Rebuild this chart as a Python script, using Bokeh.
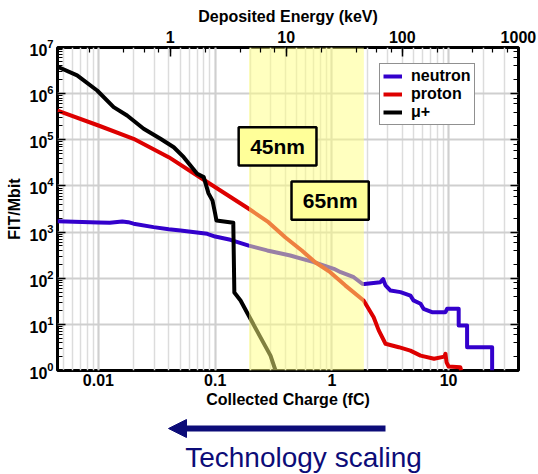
from bokeh.plotting import figure
from bokeh.models import (LogAxis, Range1d, LogScale, CustomJSTickFormatter, Legend,
                          LegendItem, Arrow, NormalHead, Label)
from bokeh.layouts import column
from bokeh.embed import file_html
from bokeh.resources import INLINE

# ---------------- data ----------------
mu_charge = [0.00446, 0.00457, 0.00657, 0.00975, 0.0135, 0.0176, 0.0244, 0.034, 0.0442,
             0.0538, 0.0701, 0.0798, 0.0877, 0.0949, 0.1, 0.1026, 0.143, 0.146, 0.165,
             0.19, 0.244, 0.298, 0.329]
mu_fit = [3.9e6, 3.74e6, 2.48e6, 1.17e6, 5.1e5, 3.37e5, 1.73e5, 1.05e5, 6.9e4,
          4.2e4, 1.84e4, 1.55e4, 6.9e3, 4.8e3, 2.5e3, 1.78e3, 1.6e3, 49, 33,
          17, 5.3, 2.1, 1.0]

proton_charge = [0.00446, 0.01, 0.02, 0.04, 0.0773, 0.194, 0.286, 0.398, 0.552, 0.72,
                 0.967, 1.30, 1.87, 2.28, 2.52, 2.88, 3.74, 4.7, 5.75, 7.5, 9.2, 9.4,
                 9.6, 10.0, 12.6, 12.8]
proton_fit = [4.3e5, 2.04e5, 1.05e5, 4.2e4, 1.43e4, 3.2e3, 1.64e3, 774, 398, 222,
              135, 70, 33, 14.3, 7.4, 3.8, 3.2, 2.7, 2.1, 1.8, 2.0, 2.3,
              1.5, 1.22, 1.18, 1.0]

neutron_charge = [0.00446, 0.01, 0.0125, 0.0145, 0.016, 0.018, 0.02, 0.0297, 0.04, 0.0505,
                  0.0855, 0.1, 0.135, 0.194, 0.279, 0.44, 0.70, 1.04, 1.19, 1.54, 1.82,
                  1.9, 2.6, 2.75, 2.88, 3.18, 3.87, 4.71, 5.0, 5.75, 6.1, 7.2, 9.4, 9.7,
                  12.2, 12.2, 14.4, 14.4, 23.6, 23.6]
neutron_fit = [1.72e3, 1.62e3, 1.6e3, 1.66e3, 1.7e3, 1.64e3, 1.52e3, 1.28e3, 1.15e3, 1.08e3,
               918, 800, 680, 510, 400, 310, 224, 160, 135, 105, 76,
               75, 82, 95, 70, 54, 50, 42, 33, 28, 21.7, 18.4, 18.4, 21.7,
               21.7, 9.4, 9.4, 3.2, 3.2, 1.0]

band_charge = [0.195, 1.88]
box_45 = dict(left=0.159, right=0.738, bottom=2.77e4, top=1.87e5)
box_65 = dict(left=0.451, right=2.07, bottom=1.85e3, top=1.25e4)

FONT = "Liberation Sans"
BLUE = "#3300cc"
RED = "#dd0000"
NAVY = "#0c0c78"

p = figure(width=538, height=410, x_axis_type="log", y_axis_type="log",
           x_range=(0.00446, 39.7), y_range=(1, 1e7),
           toolbar_location=None, output_backend="svg",
           min_border_left=57, min_border_right=20, min_border_top=47, min_border_bottom=40,
           x_axis_label="Collected Charge (fC)", y_axis_label="FIT/Mbit")
p.extra_x_ranges = {"energy": Range1d(0.107, 1002)}
p.extra_x_scales = {"energy": LogScale()}

p.outline_line_color = "black"
p.outline_line_width = 3
p.background_fill_color = "white"
p.border_fill_color = "white"

# grids
p.xgrid.grid_line_color = "#cfcfcf"
p.xgrid.grid_line_width = 2
p.xgrid.minor_grid_line_color = "#dcdcdc"
p.xgrid.minor_grid_line_width = 1.5
p.ygrid.grid_line_color = "#cfcfcf"
p.ygrid.grid_line_width = 2

xfmt = CustomJSTickFormatter(code="""
var e = Math.round(Math.log10(tick));
if (e >= 0) { return String(Math.round(Math.pow(10, e))); }
return Math.pow(10, e).toFixed(-e);
""")

def style_axis(ax):
    ax.axis_line_color = None
    ax.major_label_text_font = FONT
    ax.major_label_text_font_style = "bold"
    ax.major_label_text_font_size = "16px"
    ax.major_label_text_color = "black"
    ax.axis_label_text_font = FONT
    ax.axis_label_text_font_style = "bold"
    ax.axis_label_text_font_size = "16px"
    ax.axis_label_text_color = "black"
    ax.axis_label_standoff = 0
    ax.major_tick_out = 0
    ax.minor_tick_out = 0
    ax.major_tick_line_color = "black"
    ax.minor_tick_line_color = "black"
    ax.major_tick_line_width = 1.5
    ax.minor_tick_line_width = 1.2

xb = p.xaxis[0]
style_axis(xb)
xb.formatter = xfmt
xb.major_tick_in = 0
xb.minor_tick_in = 0
xb.major_label_standoff = 3
xb.axis_label_standoff = 2

yl = p.yaxis[0]
style_axis(yl)
yl.major_tick_in = 8
yl.minor_tick_in = 5
yl.major_label_standoff = 4
yl.axis_label_standoff = 3

top = LogAxis(x_range_name="energy", axis_label="Deposited Energy (keV)", formatter=xfmt)
style_axis(top)
top.major_tick_in = 9
top.minor_tick_in = 5
top.major_label_standoff = 5
top.axis_label_standoff = 3
p.add_layout(top, "above")

right = LogAxis(formatter=CustomJSTickFormatter(code="return '';"))
style_axis(right)
right.major_tick_in = 8
right.minor_tick_in = 5
right.major_label_standoff = 0
p.add_layout(right, "right")

# curves
r_n = p.line(neutron_charge, neutron_fit, line_color=BLUE, line_width=4, line_join="round")
r_p = p.line(proton_charge, proton_fit, line_color=RED, line_width=4, line_join="round")
r_m = p.line(mu_charge, mu_fit, line_color="black", line_width=4, line_join="round")

# translucent band over the curves
p.quad(left=[band_charge[0]], right=[band_charge[1]], bottom=[1], top=[1e7],
       fill_color="#ffff80", fill_alpha=0.5, line_color=None)

# node boxes
for b, txt in ((box_45, "45nm"), (box_65, "65nm")):
    p.quad(left=[b["left"]], right=[b["right"]], bottom=[b["bottom"]], top=[b["top"]],
           fill_color="#ffff99", line_color="black", line_width=2.5)
    cx = (b["left"] * b["right"]) ** 0.5
    cy = (b["bottom"] * b["top"]) ** 0.5
    p.add_layout(Label(x=cx, y=cy, text=txt, text_align="center", text_baseline="middle",
                       text_font=FONT, text_font_style="bold", text_font_size="21px",
                       text_color="black"))

legend = Legend(items=[LegendItem(label="neutron", renderers=[r_n]),
                       LegendItem(label="proton", renderers=[r_p]),
                       LegendItem(label="μ+", renderers=[r_m])],
                location=(322, 245))
legend.label_text_font = FONT
legend.label_text_font_style = "bold"
legend.label_text_font_size = "16px"
legend.label_text_color = "black"
legend.label_text_line_height = 1.0
legend.label_height = 16
legend.glyph_height = 16
legend.glyph_width = 19
legend.label_standoff = 9
legend.spacing = -3
legend.padding = 3
legend.margin = 0
legend.border_line_color = "#222222"
legend.border_line_width = 1.5
legend.background_fill_color = "white"
legend.background_fill_alpha = 1
p.add_layout(legend, "center")

# arrow + caption underneath (x range follows the page pixels of the aligned frame)
q = figure(width=538, height=64, x_range=(57, 518), y_range=(0, 64),
           toolbar_location=None, output_backend="svg", min_border=0)
q.axis.visible = False
q.grid.grid_line_color = None
q.outline_line_color = None
q.add_layout(Arrow(end=NormalHead(size=18, fill_color=NAVY, line_color=NAVY),
                   x_start=385, y_start=46, x_end=168, y_end=46,
                   line_width=6, line_color=NAVY))
q.add_layout(Label(x=303, y=17, text="Technology scaling", text_align="center",
                   text_baseline="alphabetic", text_font=FONT, text_font_size="28px",
                   text_color=NAVY))

layout = column(p, q, spacing=0)
open("out.html", "w").write(file_html(layout, INLINE))
